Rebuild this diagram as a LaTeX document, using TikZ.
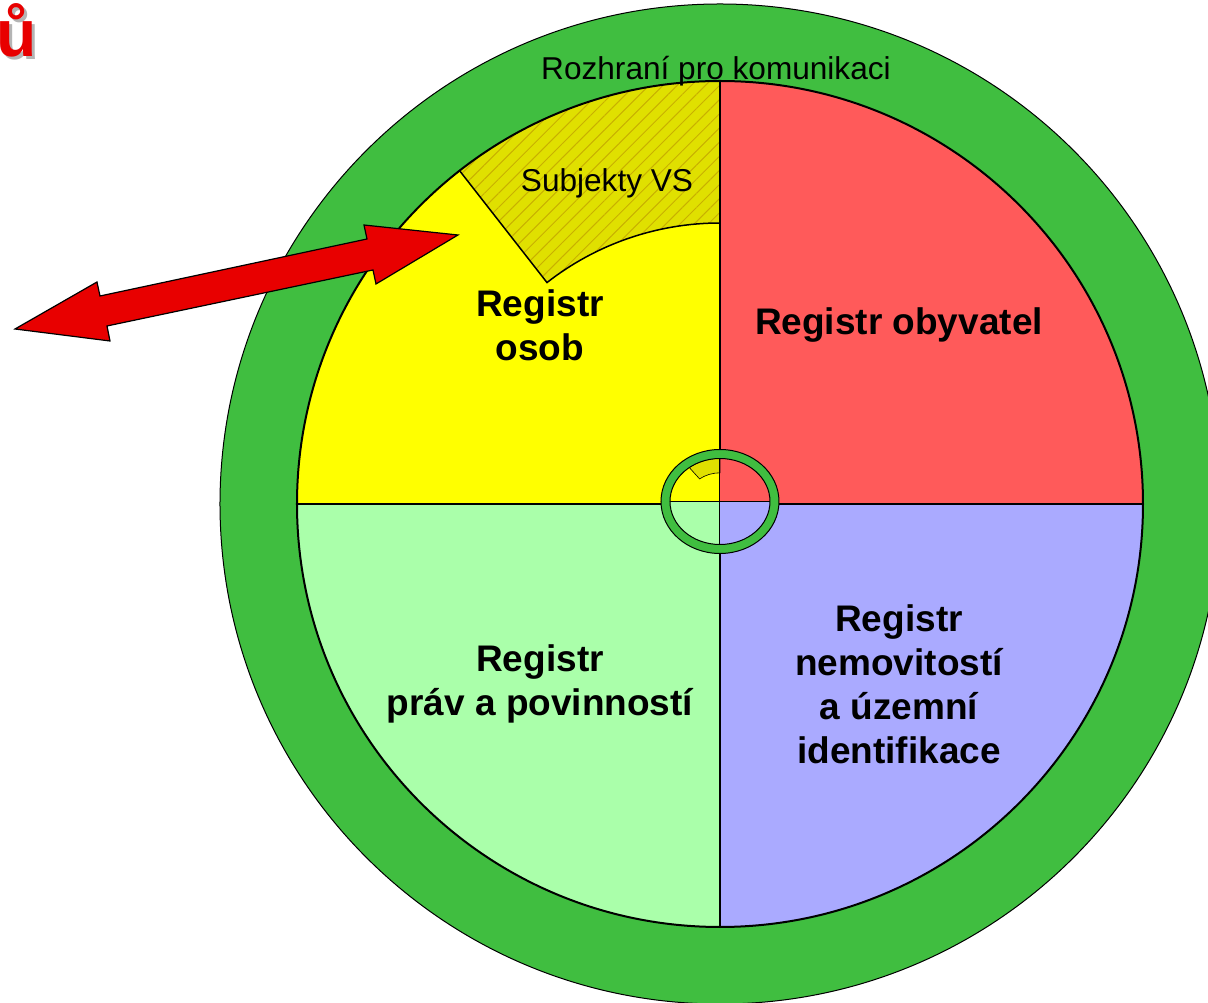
\documentclass[tikz,border=0pt]{standalone}
\usepackage{fontspec}
\setmainfont{Liberation Sans}
\usetikzlibrary{patterns.meta}
\definecolor{hexcolor0x40be40}{rgb}{0.251,0.745,0.251}
\definecolor{hexcolor0xff5a5a}{rgb}{1.000,0.353,0.353}
\definecolor{hexcolor0xffff00}{rgb}{1.000,1.000,0.000}
\definecolor{hexcolor0xaaffaa}{rgb}{0.667,1.000,0.667}
\definecolor{hexcolor0xaaaaff}{rgb}{0.667,0.667,1.000}
\definecolor{hexcolor0xe0e000}{rgb}{0.878,0.878,0.000}
\definecolor{hexcolor0xc8b000}{rgb}{0.784,0.690,0.000}
\definecolor{hexcolor0xe80000}{rgb}{0.910,0.000,0.000}
\definecolor{hexcolor0xb4b4b4}{rgb}{0.706,0.706,0.706}
\definecolor{myblack}{rgb}{0.000,0.000,0.000}
\tikzstyle{none}=[inner sep=0pt]
\tikzstyle{ring}=[fill=hexcolor0x40be40,draw=myblack]
\tikzstyle{part}=[draw=myblack,line width=1.5pt]
\tikzstyle{regname}=[inner sep=0pt,align=center,font=\fontsize{37}{44}\selectfont\bfseries]
\tikzstyle{plain}=[inner sep=0pt,font=\fontsize{31.6}{38}\selectfont]
\tikzstyle{title}=[inner sep=0pt,font=\fontsize{66}{78}\selectfont\bfseries]

\begin{document}
\begin{tikzpicture}[x=1pt,y=1pt]
\useasboundingbox (-720,-499) rectangle (488,504);
\clip (-720,-499) rectangle (488,504);
	% outer ring
	\draw [style=ring,line width=1pt] (0,0) circle (500);
	% quadrants
	\fill [hexcolor0xff5a5a] (0,0) -- (0:423) arc [start angle=0,end angle=90,radius=423] -- cycle;
	\fill [hexcolor0xffff00] (0,0) -- (90:423) arc [start angle=90,end angle=180,radius=423] -- cycle;
	\fill [hexcolor0xaaffaa] (0,0) -- (180:423) arc [start angle=180,end angle=270,radius=423] -- cycle;
	\fill [hexcolor0xaaaaff] (0,0) -- (270:423) arc [start angle=270,end angle=360,radius=423] -- cycle;
	% Subjekty VS
	\fill [hexcolor0xe0e000] (90:281) -- (90:423) arc [start angle=90,end angle=128,radius=423] -- (128:281) arc [start angle=128,end angle=90,radius=281] -- cycle;
	\fill [pattern={Lines[angle=45,distance=10pt,line width=1pt]},pattern color=hexcolor0xc8b000] (90:281) -- (90:423) arc [start angle=90,end angle=128,radius=423] -- (128:281) arc [start angle=128,end angle=90,radius=281] -- cycle;
	\draw [style=part] (90:281) arc [start angle=90,end angle=128,radius=281] -- (128:423);
	\draw [style=part,line width=2pt] (0,0) circle (423);
	\draw [style=part,line width=2pt] (0,423) -- (0,-423);
	\draw [style=part,line width=2pt] (-423,0) -- (423,0);
	% center miniature
	\begin{scope}[shift={(0,2.5)},xscale=0.118,yscale=0.102]
		\fill [hexcolor0xff5a5a] (0,0) -- (0:423) arc [start angle=0,end angle=90,radius=423] -- cycle;
		\fill [hexcolor0xffff00] (0,0) -- (90:423) arc [start angle=90,end angle=180,radius=423] -- cycle;
		\fill [hexcolor0xaaffaa] (0,0) -- (180:423) arc [start angle=180,end angle=270,radius=423] -- cycle;
		\fill [hexcolor0xaaaaff] (0,0) -- (270:423) arc [start angle=270,end angle=360,radius=423] -- cycle;
		\filldraw [fill=hexcolor0xe0e000,draw=myblack,line width=0.6pt] (90:281) -- (90:423) arc [start angle=90,end angle=128,radius=423] -- (128:281) arc [start angle=128,end angle=90,radius=281] -- cycle;
		\draw [myblack,line width=1pt] (0,423) -- (0,-423);
		\draw [myblack,line width=1pt] (-423,0) -- (423,0);
	\end{scope}
	\fill [hexcolor0x40be40,even odd rule] (0,2.5) ellipse [x radius=59,y radius=52] (0,2.5) ellipse [x radius=50,y radius=43];
	\draw [myblack,line width=1pt] (0,2.5) ellipse [x radius=59,y radius=52];
	\draw [myblack,line width=1pt] (0,2.5) ellipse [x radius=50,y radius=43];
	% texts
	\node [style=plain,anchor=base] (0) at (-4,424) {Rozhraní pro komunikaci};
	\node [style=plain] (1) at (-113,321) {Subjekty VS};
	\node [style=regname] (2) at (-180,179) {Registr\\osob};
	\node [style=regname] (3) at (179,179) {Registr obyvatel};
	\node [style=regname] (4) at (-180,-180) {Registr\\práv a povinností};
	\node [style=regname] (5) at (179,-180) {Registr\\nemovitostí\\a územní\\identifikace};
	\node [style=title,anchor=base east,text=hexcolor0xb4b4b4] (6) at (-680,444) {rů};
	\node [style=title,anchor=base east,text=hexcolor0xe80000] (7) at (-683,447) {rů};
	% arrow
	\draw [fill=hexcolor0xe80000,draw=myblack,line width=1.2pt,line join=miter]
		(-262,269) -- (-356,279) -- (-353,265) -- (-620,208) -- (-623,222) -- (-705,175)
		-- (-610,163) -- (-613,178) -- (-347,234) -- (-344,220) -- cycle;
\end{tikzpicture}
\end{document}
